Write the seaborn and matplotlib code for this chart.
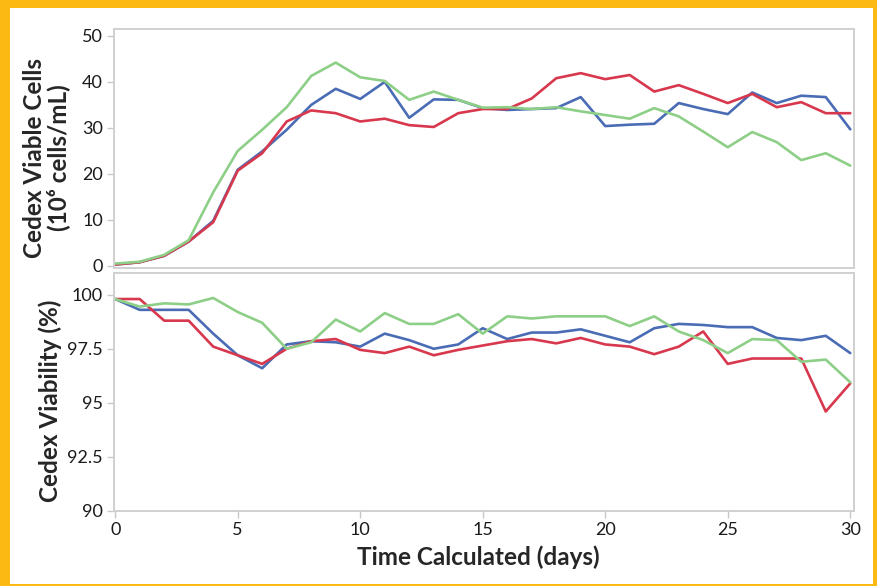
import numpy as np
import pandas as pd
import matplotlib
matplotlib.use("Agg")
import matplotlib.pyplot as plt
from matplotlib.patches import Rectangle
import seaborn as sns

# days 0..30
days = list(range(31))

# viable cell density (1e6 cells/mL)
vcd_blue = [0.3, 0.8, 2.2, 5.3, 9.8, 20.9, 24.9, 29.6, 35.0, 38.5, 36.3, 40.0, 32.2, 36.2, 36.1, 34.3,
            33.9, 34.1, 34.3, 36.7, 30.4, 30.7, 30.9, 35.4, 34.1, 33.0, 37.7, 35.4, 37.0, 36.7, 29.7]
vcd_red = [0.3, 0.8, 2.2, 5.3, 9.5, 20.7, 24.5, 31.4, 33.8, 33.2, 31.4, 32.0, 30.6, 30.2, 33.2, 34.1,
           34.1, 36.4, 40.8, 41.9, 40.6, 41.5, 37.9, 39.3, 37.4, 35.4, 37.4, 34.5, 35.6, 33.2, 33.2]
vcd_green = [0.5, 0.9, 2.4, 5.6, 16.0, 25.0, 29.6, 34.5, 41.3, 44.2, 41.0, 40.2, 36.1, 37.9, 36.1, 34.4,
             34.5, 34.1, 34.5, 33.6, 32.8, 32.0, 34.3, 32.5, 29.2, 25.8, 29.1, 26.9, 23.0, 24.5, 21.8]

# viability (%)
via_blue = [99.8, 99.3, 99.3, 99.3, 98.2, 97.2, 96.6, 97.7, 97.85, 97.8, 97.6, 98.2, 97.9, 97.5, 97.7, 98.45,
            97.95, 98.25, 98.25, 98.4, 98.1, 97.8, 98.45, 98.65, 98.6, 98.5, 98.5, 98.0, 97.9, 98.1, 97.3]
via_red = [99.8, 99.8, 98.8, 98.8, 97.6, 97.2, 96.8, 97.5, 97.85, 97.95, 97.45, 97.3, 97.6, 97.2, 97.45, 97.65,
           97.85, 97.95, 97.75, 98.0, 97.7, 97.6, 97.25, 97.6, 98.3, 96.8, 97.05, 97.05, 97.05, 94.6, 95.9]
via_green = [99.8, 99.45, 99.6, 99.55, 99.85, 99.2, 98.7, 97.5, 97.8, 98.85, 98.3, 99.15, 98.65, 98.65, 99.1, 98.2,
             99.0, 98.9, 99.0, 99.0, 99.0, 98.55, 99.0, 98.3, 97.9, 97.3, 97.95, 97.9, 96.9, 97.0, 95.95]

series = ["Blue", "Red", "Green"]
palette = {"Blue": "#4a6cb5", "Red": "#d8384d", "Green": "#8ecf87"}

vcd = pd.DataFrame({
    "day": days * 3,
    "value": vcd_blue + vcd_red + vcd_green,
    "run": sum([[s] * len(days) for s in series], []),
})
via = pd.DataFrame({
    "day": days * 3,
    "value": via_blue + via_red + via_green,
    "run": sum([[s] * len(days) for s in series], []),
})

sns.set_style("white")
plt.rcParams["font.family"] = ["Lato", "DejaVu Sans"]

fig = plt.figure(figsize=(8.78, 5.86), dpi=100)
fig.patch.set_facecolor("#fdb913")
fig.patches.append(Rectangle((10 / 878, 2 / 586), 863 / 878, 576 / 586,
                             transform=fig.transFigure, facecolor="white",
                             edgecolor="none", zorder=-10))

ax1 = fig.add_axes([0.1298, 0.5427, 0.8428, 0.4078])
ax2 = fig.add_axes([0.1298, 0.128, 0.8428, 0.406])

sns.lineplot(data=vcd, x="day", y="value", hue="run", palette=palette,
             linewidth=1.9, legend=False, ax=ax1)
sns.lineplot(data=via, x="day", y="value", hue="run", palette=palette,
             linewidth=1.9, legend=False, ax=ax2)

for ax in (ax1, ax2):
    ax.set_xlim(-0.05, 30.15)
    ax.set_facecolor("white")
    for sp in ax.spines.values():
        sp.set_color("#d0d0d0")
        sp.set_linewidth(1.4)
    ax.tick_params(axis="both", colors="#c8c8c8", labelcolor="#1a1a1a",
                   labelsize=13, length=5, width=1, direction="out", pad=3)
    ax.tick_params(left=True, bottom=True)

ax1.set_ylim(-0.45, 51.5)
ax1.set_yticks([0, 10, 20, 30, 40, 50])
ax1.set_xticks([0, 5, 10, 15, 20, 25, 30])
ax1.tick_params(axis="x", bottom=False, labelbottom=False)
ax1.set_xlabel("")
ax1.set_ylabel("Cedex Viable Cells\n(10⁶ cells/mL)", fontsize=17.5,
               fontweight="bold", linespacing=1.0)
ax1.yaxis.set_label_coords(-0.06, 0.46)

ax2.set_ylim(90, 101)
ax2.set_yticks([90, 92.5, 95, 97.5, 100])
ax2.set_yticklabels(["90", "92.5", "95", "97.5", "100"])
ax2.set_xticks([0, 5, 10, 15, 20, 25, 30])
ax2.set_xlabel("Time Calculated (days)", fontsize=17.5, fontweight="bold")
ax2.xaxis.set_label_coords(0.493, -0.145)
ax2.set_ylabel("Cedex Viability (%)", fontsize=17.5, fontweight="bold")
ax2.yaxis.set_label_coords(-0.07, 0.462)

fig.savefig("out.png", dpi=100, facecolor=fig.get_facecolor())
